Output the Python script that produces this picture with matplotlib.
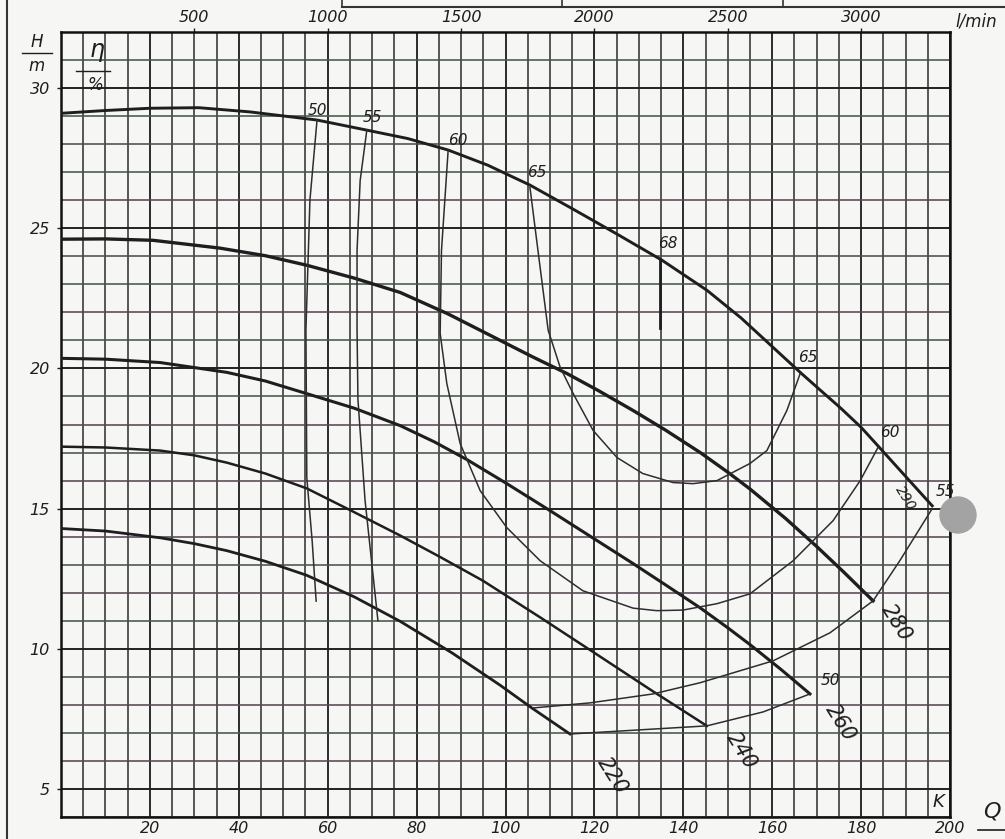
import numpy as np
import matplotlib
matplotlib.use('Agg')
import matplotlib.pyplot as plt
from matplotlib.lines import Line2D
from matplotlib.patches import Ellipse

# head curves, Q in m3/h, H in m, one per impeller diameter
q_290 = [0, 10, 20, 31, 42.5, 57.6, 68.8, 78, 87.1, 96, 105.5, 115, 125, 135.2, 145.3, 153, 160.2, 166.3, 171, 175.3, 180, 184.3, 190, 196]
h_290 = [29.1, 29.2, 29.28, 29.3, 29.15, 28.86, 28.5, 28.2, 27.79, 27.25, 26.54, 25.7, 24.8, 23.86, 22.79, 21.8, 20.75, 19.86, 19.2, 18.6, 17.9, 17.15, 16.15, 15.1]
q_280 = [0, 10, 20.7, 35.8, 46, 55.3, 66, 76.3, 87, 98.8, 106, 113.8, 121, 128.7, 136, 143.8, 150, 155, 163, 170, 176, 182.7]
h_280 = [24.61, 24.62, 24.57, 24.29, 24.02, 23.68, 23.22, 22.71, 21.95, 21.0, 20.42, 19.82, 19.2, 18.5, 17.8, 17.0, 16.3, 15.7, 14.65, 13.65, 12.75, 11.71]
q_260 = [0, 10, 22.3, 37.3, 46, 55.3, 66, 76.3, 84, 91.3, 100, 110, 119, 128.7, 136, 143.8, 150, 155, 162, 168.5]
h_260 = [20.36, 20.33, 20.21, 19.86, 19.55, 19.1, 18.58, 17.96, 17.38, 16.75, 15.92, 14.93, 14.02, 13.04, 12.28, 11.46, 10.75, 10.15, 9.26, 8.39]
q_240 = [0, 10, 22.3, 30, 37.3, 46, 55.3, 65, 76.3, 85, 94.9, 108, 121.3, 133, 145.3]
h_240 = [17.21, 17.18, 17.07, 16.9, 16.64, 16.25, 15.72, 14.95, 14.04, 13.3, 12.43, 11.1, 9.72, 8.5, 7.25]
q_220 = [0, 10, 22.3, 30, 37.3, 46, 55.3, 66, 76.3, 88, 98.8, 106, 114.5]
h_220 = [14.29, 14.2, 13.96, 13.75, 13.5, 13.12, 12.62, 11.85, 10.98, 9.85, 8.7, 7.88, 6.96]

# efficiency contours (eta in %)
q_e50l = [57.6, 56.0, 55.1, 55.3, 56.5, 57.4]
h_e50l = [28.86, 26.0, 21.36, 16.1, 13.86, 11.7]
q_e55l = [68.8, 67.3, 66.6, 66.6, 66.8, 68.4, 71.3]
h_e55l = [28.5, 26.7, 24.2, 21.4, 18.9, 15.3, 11.0]
q_e60 = [87.1, 85.6, 85.3, 86.8, 89.8, 94.3, 100.3, 107.8, 117.4, 128.7, 134, 139.9, 147.6, 155, 164.7, 173.7, 179.8, 183.8]
h_e60 = [27.79, 24.21, 21.25, 19.46, 17.32, 15.64, 14.32, 13.14, 12.07, 11.45, 11.36, 11.38, 11.61, 11.96, 13.14, 14.57, 16.0, 17.18]
q_e65 = [105.5, 107.3, 109.6, 112.3, 115.2, 119.7, 125.1, 130.9, 137.7, 142.2, 147.6, 155, 158.8, 163.3, 166.3]
h_e65 = [26.46, 24.21, 21.36, 20.04, 19.11, 17.79, 16.82, 16.25, 15.93, 15.89, 16.0, 16.61, 17.07, 18.5, 19.82]
q_e68 = [134.8, 134.8]
h_e68 = [23.86, 21.43]
q_e55r = [196, 188.7, 182.7, 173, 160.2, 143.8, 133.2, 119, 106.2]
h_e55r = [15.0, 13.14, 11.71, 10.57, 9.57, 8.79, 8.39, 8.07, 7.89]
q_e50r = [114.5, 145.3, 158, 168.5]
h_e50r = [6.96, 7.25, 7.75, 8.39]

# labels
eta_labels = ['50', '55', '60', '65', '68', '65', '60', '55', '50']
eta_q = [57.8, 70, 89.3, 107.1, 136.6, 168, 186.5, 198.9, 173]
eta_h = [29.2, 28.96, 28.14, 27.0, 24.46, 20.4, 17.7, 15.6, 8.86]
dia_labels = ['280', '260', '240', '220', '290']
dia_q = [188, 175.3, 153.2, 124, 189.9]
dia_h = [10.93, 7.36, 6.36, 5.46, 15.39]

q_ticks = [20, 40, 60, 80, 100, 120, 140, 160, 180, 200]
h_ticks = [5, 10, 15, 20, 25, 30]
lmin_ticks = [500, 1000, 1500, 2000, 2500, 3000]

W, H = 1005, 839
paper = '#f6f6f4'
ink = '#1e1e1e'
font = dict(fontstyle='italic', color=ink)

fig = plt.figure(figsize=(W / 100, H / 100), dpi=100)
fig.patch.set_facecolor(paper)
ax = fig.add_axes([61 / W, 1 - 817 / H, 889 / W, 785 / H])
ax.set_facecolor(paper)
ax.set_xlim(0, 200)
ax.set_ylim(4, 32)

# graph paper
for q in np.arange(0, 201, 5):
    lw = 1.4 if q % 20 == 0 else 1.1
    ax.axvline(q, color='#2b2b2b', lw=lw, zorder=1)
for h in np.arange(4, 33, 1):
    if h % 5 == 0:
        c, lw = '#222222', 1.4
    elif h % 2:
        c, lw = '#475647', 1.15
    else:
        c, lw = '#564754', 1.15
    ax.axhline(h, color=c, lw=lw, zorder=1)

# head curves
ax.plot(q_290, h_290, color=ink, lw=2.1, zorder=3)
ax.plot(q_280, h_280, color=ink, lw=2.4, zorder=3)
ax.plot(q_260, h_260, color=ink, lw=2.2, zorder=3)
ax.plot(q_240, h_240, color=ink, lw=1.8, zorder=3)
ax.plot(q_220, h_220, color=ink, lw=2.0, zorder=3)

# efficiency lines
for qq, hh in [(q_e50l, h_e50l), (q_e55l, h_e55l), (q_e60, h_e60), (q_e65, h_e65),
               (q_e55r, h_e55r), (q_e50r, h_e50r)]:
    ax.plot(qq, hh, color='#2e2e2e', lw=1.1, zorder=3)
ax.plot(q_e68, h_e68, color=ink, lw=2.0, zorder=3)

for t, q, h in zip(eta_labels, eta_q, eta_h):
    ax.text(q, h, t, fontsize=11, ha='center', va='center', clip_on=False, zorder=4, **font)
for t, q, h in zip(dia_labels, dia_q, dia_h):
    fs = 10 if t == '290' else 15
    ax.text(q, h, t, fontsize=fs, ha='center', va='center', rotation=-58,
            clip_on=False, zorder=4, **font)
ax.text(197.3, 4.55, 'K', fontsize=13, ha='center', va='center', **font)

# axes and ticks
for s in ax.spines.values():
    s.set_color('#111111')
    s.set_linewidth(1.8)
ax.set_xticks(q_ticks)
ax.set_xticklabels([str(v) for v in q_ticks], fontsize=11.5, **font)
ax.tick_params(axis='x', length=0, pad=3)
ax.set_yticks(h_ticks)
ax.set_yticklabels([str(v) for v in h_ticks], fontsize=11.5, **font)
ax.tick_params(axis='y', length=3, width=1, pad=5, color=ink)

top = ax.secondary_xaxis('top', functions=(lambda q: q * 1000 / 60, lambda l: l * 60 / 1000))
top.set_xticks(lmin_ticks)
top.set_xticklabels([str(v) for v in lmin_ticks], fontsize=11.5, **font)
top.tick_params(length=3, width=1, pad=2, color=ink)
top.spines['top'].set_visible(False)

# unit captions
fig.text(976 / W, 1 - 22 / H, 'l/min', fontsize=12, ha='center', va='center', **font)
fig.text(992 / W, 1 - 812 / H, 'Q', fontsize=16, ha='center', va='center', **font)
fig.add_artist(Line2D([978 / W, 1.0], [1 - 830 / H, 1 - 830 / H], color=ink, lw=1.2))
fig.text(37 / W, 1 - 42 / H, 'H', fontsize=12, ha='center', va='center', **font)
fig.add_artist(Line2D([22 / W, 52 / W], [1 - 53 / H, 1 - 53 / H], color=ink, lw=1.0))
fig.text(37 / W, 1 - 66 / H, 'm', fontsize=12, ha='center', va='center', **font)
fig.text(97 / W, 1 - 50 / H, 'η', fontsize=17, ha='center', va='center', **font)
fig.add_artist(Line2D([76 / W, 110 / W], [1 - 71 / H, 1 - 71 / H], color=ink, lw=1.0))
fig.text(95 / W, 1 - 85 / H, '%', fontsize=12, ha='center', va='center', **font)

# sheet edges from the scan
fig.add_artist(Line2D([7 / W, 7 / W], [0, 1], color='#333333', lw=1.5))
fig.add_artist(Line2D([342 / W, 1.0], [1 - 7 / H, 1 - 7 / H], color='#333333', lw=1.5))
for xv in [342, 562, 783]:
    fig.add_artist(Line2D([xv / W, xv / W], [1 - 7 / H, 1.0], color='#333333', lw=1.2))
fig.add_artist(Ellipse((958 / W, 1 - 515 / H), 36 / W, 36 / H, color='#a3a3a3'))

fig.savefig('out.png', dpi=100, facecolor=fig.get_facecolor())
